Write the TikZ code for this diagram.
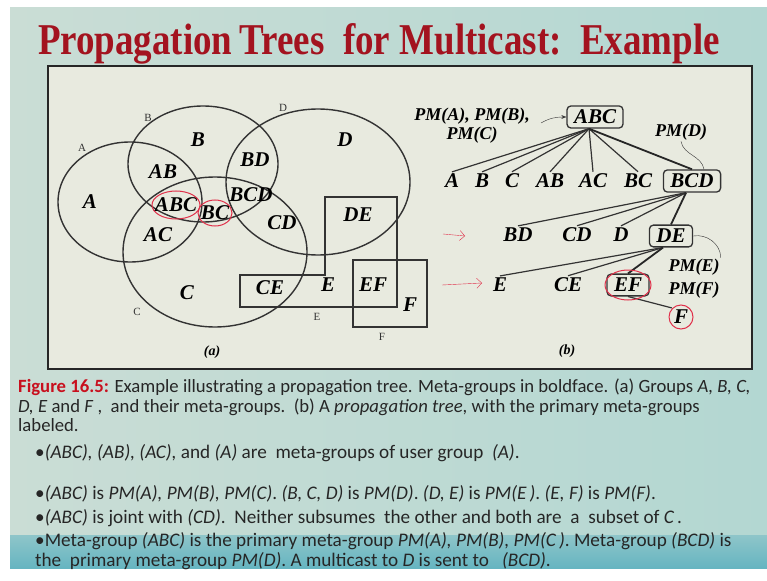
\documentclass[tikz,border=0pt]{standalone}
\usepackage{fontspec}
\setmainfont{Liberation Serif}
\newfontfamily\titlefont[FakeStretch=0.84]{Liberation Serif}
\newfontfamily\capfont{Carlito}
\usetikzlibrary{arrows.meta}
\definecolor{slideleft}{HTML}{CADDD5}
\definecolor{slideright}{HTML}{B3D7D2}
\definecolor{band}{HTML}{66B5C1}
\definecolor{panel}{HTML}{E8EADF}
\definecolor{titlered}{HTML}{A3131F}
\definecolor{figred}{HTML}{C8101E}
\definecolor{ink}{HTML}{333333}
\definecolor{pen}{HTML}{E0304A}

\begin{document}
\begin{tikzpicture}[x=1pt,y=-1pt,
  grp/.style={font=\fontsize{21}{21}\selectfont\bfseries\itshape, inner sep=2pt},
  pm/.style={font=\fontsize{18}{19}\selectfont\bfseries\itshape, inner sep=1pt},
  setname/.style={font=\fontsize{11}{11}\selectfont, inner sep=1pt, text=ink},
  meta/.style={grp, draw=ink, line width=1.3pt, rounded corners=4pt, inner xsep=7pt, inner ysep=4pt},
  venn/.style={draw=ink, line width=1.4pt},
  branch/.style={ink, line width=1.2pt},
  primary/.style={black!85, line width=1.8pt},
  ring/.style={draw=pen, line width=1pt},
  capline/.style={anchor=base west, inner sep=0pt, text=black!85,
    font=\capfont\fontsize{18.7}{19}\selectfont},
  bullet/.style={capline, font=\capfont\fontsize{19.2}{19}\selectfont}]
\useasboundingbox (0,0) rectangle (767,580);

% slide
\fill[white] (0,0) rectangle (767,580);
\shade[left color=slideleft, right color=slideright] (10,8) rectangle (767,568);
\shade[top color=band!60!slideleft, bottom color=band] (10,535) rectangle (767,568);

\node[anchor=base, inner sep=0pt, text=titlered,
  font=\titlefont\fontsize{44}{44}\selectfont\bfseries] (title) at (379,55)
  {Propagation\,Trees\ \ for Multicast:\ \ Example};

\draw[fill=panel, draw=black!85, line width=2.5pt] (48,66) rectangle (752,369);

% (a) groups and meta-groups
\draw[venn] (130,202) ellipse [x radius=72pt, y radius=60pt];
\draw[venn] (203,164) ellipse [x radius=75pt, y radius=58pt];
\draw[venn] (215,252) ellipse [x radius=92pt, y radius=75pt];
\draw[venn] (318,182) ellipse [x radius=92pt, y radius=73pt];
\draw[venn] (240,275) -- (325,275) -- (325,197) -- (397,197) -- (397,307) -- (240,307) -- cycle;
\draw[venn] (353,260) rectangle (427,327);

\node[setname] (setA) at (82,148) {A};
\node[setname] (setB) at (148,118) {B};
\node[setname] (setD) at (283,108) {D};
\node[setname] (setC) at (137,312) {C};
\node[setname] (setE) at (317,317) {E};
\node[setname] (setF) at (382,337) {F};

\node[grp] (mA) at (90,202) {A};
\node[grp] (mB) at (198,140) {B};
\node[grp] (mAB) at (163,172) {AB};
\node[grp] (mABC) at (176,205) {ABC};
\node[grp] (mBC) at (215,213) {BC};
\node[grp] (mBCD) at (251,195) {BCD};
\node[grp] (mBD) at (255,160) {BD};
\node[grp] (mD) at (345,140) {D};
\node[grp] (mAC) at (158,235) {AC};
\node[grp] (mCD) at (282,223) {CD};
\node[grp] (mDE) at (358,215) {DE};
\node[grp] (mC) at (187,293) {C};
\node[grp] (mCE) at (270,288) {CE};
\node[grp] (mE) at (328,285) {E};
\node[grp] (mEF) at (373,285) {EF};
\node[grp] (mF) at (410,305) {F};
\node[font=\fontsize{14}{14}\selectfont\bfseries\itshape] (capA) at (212,352) {(a)};

% (b) propagation tree
\node[meta] (abc) at (595,117) {ABC};
\node[pm, align=center] (pmabc) at (472,126) {PM(A), PM(B),\\PM(C)};
\coordinate (pmtail) at (541,123);
\draw[ink, thin, -{Stealth[length=5pt]}] (pmtail) to[out=30, in=180] (abc.west);

\node[grp] (tA) at (452,181) {A};
\node[grp] (tB) at (482,181) {B};
\node[grp] (tC) at (512,181) {C};
\node[grp] (tAB) at (550,181) {AB};
\node[grp] (tAC) at (593,181) {AC};
\node[grp] (tBC) at (638,181) {BC};
\node[meta] (bcd) at (692,181) {BCD};
\node[pm] (pmd) at (681,132) {PM(D)};

\node[grp] (tBD) at (518,235) {BD};
\node[grp] (tCD) at (577,235) {CD};
\node[grp] (tD) at (621,235) {D};
\node[meta] (de) at (671,236) {DE};

\node[grp] (tE) at (500,285) {E};
\node[grp] (tCE) at (568,285) {CE};
\node[meta] (ef) at (628,285) {EF};
\node[pm] (pme) at (694,267) {PM(E)};
\node[pm] (pmf) at (694,290) {PM(F)};
\node[grp] (tF) at (681,317) {F};
\node[font=\fontsize{14}{14}\selectfont\bfseries\itshape] (capB) at (567,351) {(b)};

\coordinate (abcfoot) at ([xshift=-6pt]abc.south);
\coordinate (bcdfoot) at ([xshift=-6pt]bcd.south);
\coordinate (defoot) at ([xshift=-8pt]de.south);
\foreach \kid in {tA,tB,tC,tAB,tAC,tBC}
  \draw[branch] (abcfoot) -- (\kid.north);
\draw[primary] (abcfoot) -- (bcd.north);
\foreach \kid in {tBD,tCD,tD}
  \draw[branch] (bcdfoot) -- (\kid.north);
\draw[primary] (bcdfoot) -- (de.north);
\foreach \kid in {tE,tCE}
  \draw[branch] (defoot) -- (\kid.north);
\draw[primary] (defoot) -- (ef.north);
\draw[branch] (ef.south) -- (tF.north west);
\draw[ink, thin] (pmd.south) to[out=-80, in=100] ([xshift=12pt]bcd.north);
\draw[ink, thin] (de.east) to[out=10, in=90] (pme.north east);

% pen marks
\draw[ring] (mABC) ellipse [x radius=24pt, y radius=14pt];
\draw[ring] (mBC) ellipse [x radius=17pt, y radius=13pt];
\draw[ring] (ef) ellipse [x radius=23pt, y radius=15pt];
\draw[ring] (tF) circle [radius=12pt];
\draw[pen, -{Straight Barb[length=5pt]}] (443,234) -- (465,236);
\draw[pen, -{Straight Barb[length=5pt]}] (442,285) -- (482,283);

% caption
\node[capline] (cap1) at (18,392) {\textcolor{figred}{\bfseries Figure 16.5:} Example illustrating a propagation tree. Meta-groups in boldface. (a) Groups \textit{A, B, C,}};
\node[capline] (cap2) at (18,412) {\textit{D, E} and \textit{F} ,\ \ and their meta-groups.\ \ (b) A \textit{propagation tree}, with the primary meta-groups};
\node[capline] (cap3) at (18,431) {labeled.};
\node[bullet] (pt1) at (35,458) {•\textit{(ABC), (AB), (AC),} and \textit{(A)} are\ \ meta-groups of user group\ \ \textit{(A)}.};
\node[bullet] (pt2) at (35,499) {•\textit{(ABC)} is \textit{PM(A), PM(B), PM(C)}. \textit{(B, C, D)} is \textit{PM(D)}. \textit{(D, E)} is \textit{PM(E\,)}. \textit{(E, F)} is \textit{PM(F)}.};
\node[bullet] (pt3) at (35,523) {•\textit{(ABC)} is joint with \textit{(CD)}.\ \ Neither subsumes\ \ the other and both are\ \ a\ \ subset of \textit{C\,}.};
\node[bullet] (pt4) at (35,546) {•Meta-group \textit{(ABC)} is the primary meta-group \textit{PM(A), PM(B), PM(C\,)}. Meta-group \textit{(BCD)} is};
\node[bullet] (pt4b) at (35,566) {the\ \ primary meta-group \textit{PM(D)}. A multicast to \textit{D} is sent to\ \ \ \textit{(BCD)}.};
\end{tikzpicture}
\end{document}
